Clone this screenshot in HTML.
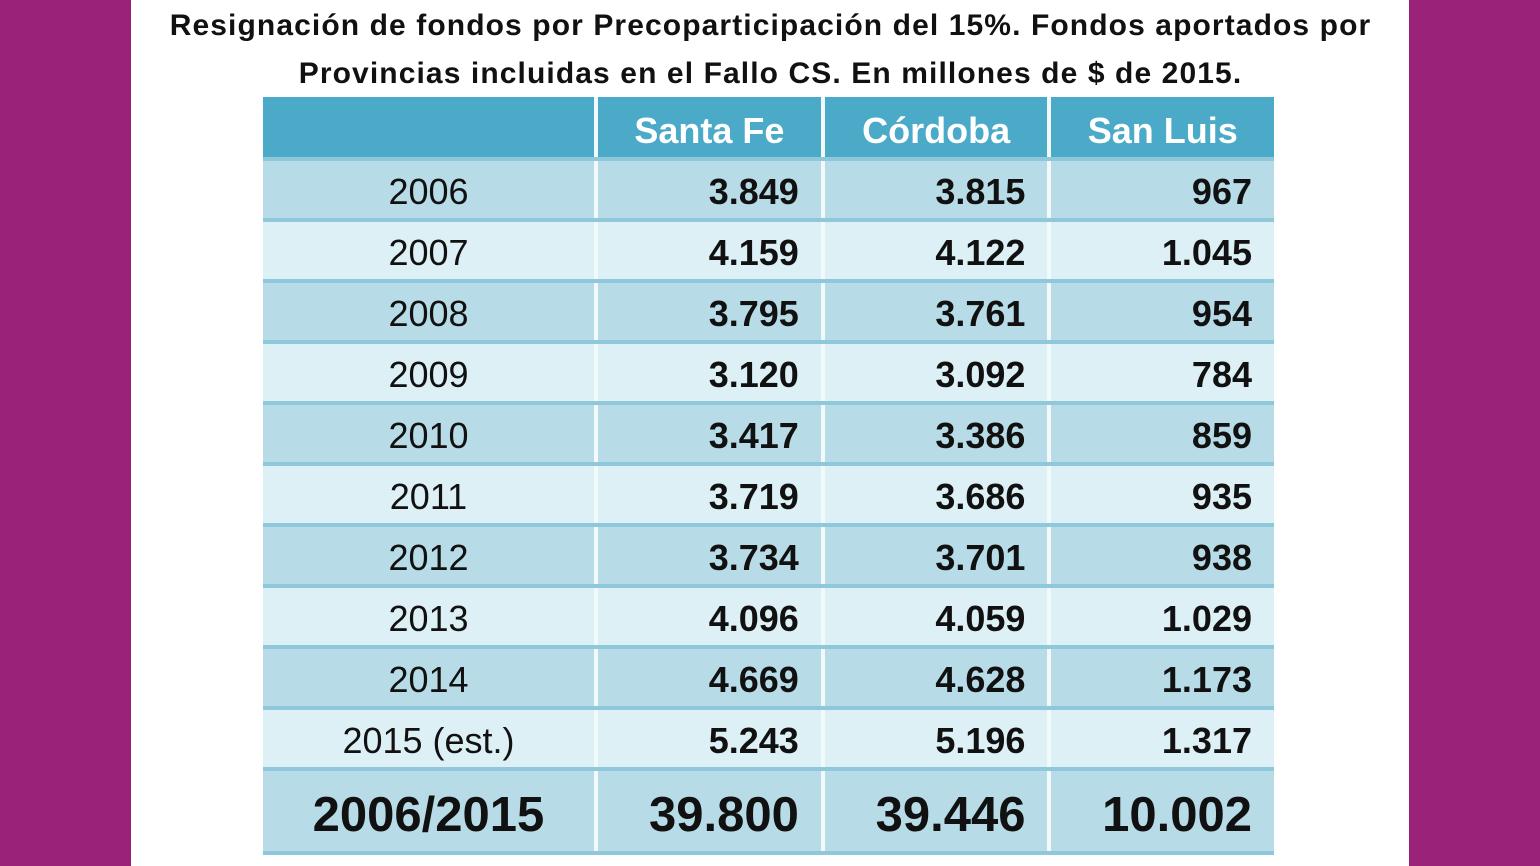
<!DOCTYPE html>
<html><head><meta charset="utf-8"><style>
body{margin:0;width:1540px;height:866px;background:#fff;position:relative;overflow:hidden;font-family:"Liberation Sans",sans-serif}
.l{position:absolute;left:0;top:0;width:131px;height:866px;background:#9a2278}
.r{position:absolute;left:1409px;top:0;width:131px;height:866px;background:#9a2278}
.t{position:absolute;left:132px;width:1277px;text-align:center;font-weight:bold;font-size:30px;color:#111;letter-spacing:1.1px;white-space:nowrap}
table{position:absolute;left:263px;top:97px;width:1011px;border-collapse:collapse}
td{padding:4px 22px 0 22px;height:53px;font-size:36px;color:#111;border-right:4px solid #f2f9fb;border-bottom:4px solid #8ec8da;text-align:right;font-weight:bold}
td:first-child{text-align:center;font-weight:normal;width:287px}
td:last-child{border-right:none}
tr.h td{background:#4aaac8;color:#fff;text-align:center;font-weight:bold;height:52px;padding-top:8px;font-size:36px}
tr.a td{background:#b7dce7}
tr.b td{background:#dcf0f5}
tr.tot td{background:#b7dce7;height:72px;padding-top:8px;font-size:49px;font-weight:bold}
</style></head><body>
<div class="l"></div><div class="r"></div>
<div class="t" style="top:9px">Resignación de fondos por Precoparticipación del 15%. Fondos aportados por</div>
<div class="t" style="top:57px">Provincias incluidas en el Fallo CS. En millones de $ de 2015.</div>
<table>
<tr class="h"><td></td><td>Santa Fe</td><td>Córdoba</td><td>San Luis</td></tr>
<tr class="a"><td>2006</td><td>3.849</td><td>3.815</td><td>967</td></tr>
<tr class="b"><td>2007</td><td>4.159</td><td>4.122</td><td>1.045</td></tr>
<tr class="a"><td>2008</td><td>3.795</td><td>3.761</td><td>954</td></tr>
<tr class="b"><td>2009</td><td>3.120</td><td>3.092</td><td>784</td></tr>
<tr class="a"><td>2010</td><td>3.417</td><td>3.386</td><td>859</td></tr>
<tr class="b"><td>2011</td><td>3.719</td><td>3.686</td><td>935</td></tr>
<tr class="a"><td>2012</td><td>3.734</td><td>3.701</td><td>938</td></tr>
<tr class="b"><td>2013</td><td>4.096</td><td>4.059</td><td>1.029</td></tr>
<tr class="a"><td>2014</td><td>4.669</td><td>4.628</td><td>1.173</td></tr>
<tr class="b"><td>2015 (est.)</td><td>5.243</td><td>5.196</td><td>1.317</td></tr>
<tr class="tot"><td style="font-weight:bold">2006/2015</td><td>39.800</td><td>39.446</td><td>10.002</td></tr>
</table>
</body></html>
